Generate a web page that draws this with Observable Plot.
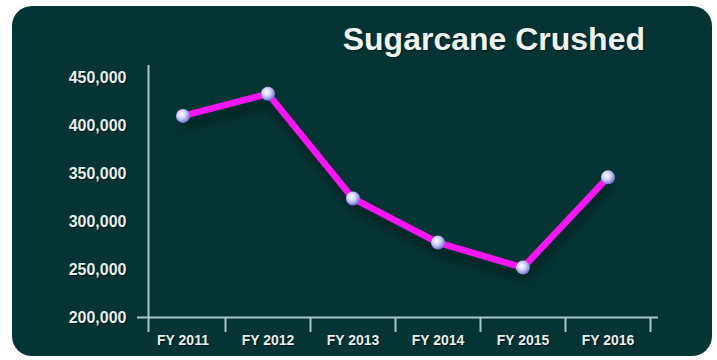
<!DOCTYPE html>
<html>
<head>
<meta charset="utf-8">
<script src="https://cdn.jsdelivr.net/npm/d3@7"></script>
<script src="https://cdn.jsdelivr.net/npm/@observablehq/plot@0.6"></script>
<style>
  html, body { margin: 0; padding: 0; background: #ffffff; }
  #wrap { position: relative; width: 717px; height: 360px; overflow: hidden; background: #fff; }
  #card { position: absolute; left: 12px; top: 6px; width: 700px; height: 350px; border-radius: 20px; background: #053434; }
  #title { position: absolute; right: 72px; top: 23px; font: bold 32px "Liberation Sans", Arial, sans-serif; line-height: 1; color: #eef3f3; white-space: nowrap; text-shadow: 1px 1px 2px rgba(0,0,0,0.5); }
  #chart { position: absolute; left: 0; top: 0; }
  #chart svg text { text-shadow: 1px 1px 1px rgba(0,0,0,0.6); }
</style>
</head>
<body>
<div id="wrap">
  <div id="card"></div>
  <div id="chart"></div>
  <div id="title">Sugarcane Crushed</div>
</div>
<script>
const years = ["FY 2011", "FY 2012", "FY 2013", "FY 2014", "FY 2015", "FY 2016"];
const crushed = [410000, 433000, 324000, 278000, 252000, 346000];
const yTicks = [200000, 250000, 300000, 350000, 400000, 450000];

const data = years.map((y, i) => ({year: y, value: crushed[i]}));

const W = 717, H = 360;
const mL = 140, mR = 67, mT = 77, mB = 43;
const bw = (W - mL - mR) / years.length;
const axisColor = "#a9c7c4";
const textColor = "#e8eeee";

const plot = Plot.plot({
  width: W,
  height: H,
  marginLeft: mL,
  marginRight: mR,
  marginTop: mT,
  marginBottom: mB,
  style: {background: "transparent", color: textColor, fontFamily: "'Liberation Sans', Arial, sans-serif", overflow: "visible"},
  x: {type: "band", domain: years, paddingInner: 0, paddingOuter: 0},
  y: {domain: [200000, 450000]},
  marks: [
    Plot.axisY({ticks: yTicks, tickSize: 0, tickPadding: 14, tickFormat: d3.format(","), label: null, fontSize: 16, fontWeight: "bold", fill: textColor}),
    Plot.axisX({tickSize: 0, tickPadding: 18, label: null, fontSize: 14, fontWeight: "bold", fill: textColor}),
    // x axis baseline
    Plot.ruleY([200000], {stroke: axisColor, strokeWidth: 2, insetLeft: -3, insetRight: -8}),
    // y axis line
    Plot.ruleX([years[0]], {stroke: axisColor, strokeWidth: 2, dx: -bw / 2 + 8, insetTop: -12, insetBottom: -15}),
    // band boundary ticks
    Plot.ruleX(years.slice(1), {y1: 200000, y2: 200000, stroke: axisColor, strokeWidth: 2, dx: -bw / 2, insetBottom: -15}),
    Plot.ruleX([years[years.length - 1]], {y1: 200000, y2: 200000, stroke: axisColor, strokeWidth: 2, dx: bw / 2, insetBottom: -15}),
    Plot.line(data, {x: "year", y: "value", stroke: "#f816f4", strokeWidth: 6.5, strokeLinejoin: "round", strokeLinecap: "round"}),
    Plot.dot(data, {x: "year", y: "value", r: 7, fill: "url(#sphere)", stroke: "none"})
  ]
});

const svg = d3.select(plot);
const defs = svg.insert("defs", ":first-child");
const g = defs.append("radialGradient").attr("id", "sphere").attr("cx", "40%").attr("cy", "38%").attr("r", "65%");
g.append("stop").attr("offset", "0%").attr("stop-color", "#ffffff");
g.append("stop").attr("offset", "45%").attr("stop-color", "#d2d2fb");
g.append("stop").attr("offset", "100%").attr("stop-color", "#6c6cd0");
const f = defs.append("filter").attr("id", "shadow").attr("x", "-20%").attr("y", "-20%").attr("width", "140%").attr("height", "160%");
f.append("feDropShadow").attr("dx", 2).attr("dy", 9).attr("stdDeviation", 5).attr("flood-color", "#000").attr("flood-opacity", 0.45);
svg.selectAll("g[aria-label='line']").attr("filter", "url(#shadow)");

document.getElementById("chart").appendChild(plot);
</script>
</body>
</html>
